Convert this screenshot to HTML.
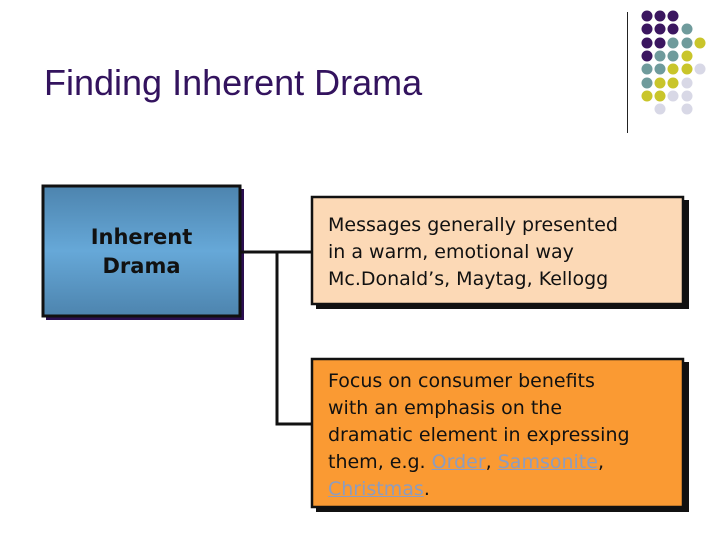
<!DOCTYPE html>
<html><head><meta charset="utf-8"><style>
body{margin:0;width:720px;height:540px;background:#fff;position:relative;overflow:hidden;font-family:"DejaVu Sans","Liberation Sans",sans-serif}
.a{position:absolute}
.t{font-size:19px;line-height:27px;color:#111;}
a{color:#8c9cc0;text-decoration:underline}
</style></head><body>
<div class="a" style="left:44px;top:62px;font:36px 'Liberation Sans',sans-serif;color:#33135e;white-space:nowrap">Finding Inherent Drama</div>
<div class="a" style="left:627px;top:12px;width:1px;height:121px;background:#222"></div>
<svg class="a" style="left:0;top:0" width="720" height="540">
<g>
<circle cx="647" cy="16" r="5.5" fill="#3b1660"/><circle cx="660" cy="16" r="5.5" fill="#3b1660"/><circle cx="673" cy="16" r="5.5" fill="#3b1660"/>
<circle cx="647" cy="29" r="5.5" fill="#3b1660"/><circle cx="660" cy="29" r="5.5" fill="#3b1660"/><circle cx="673" cy="29" r="5.5" fill="#3b1660"/><circle cx="687" cy="29" r="5.5" fill="#6f9b9c"/>
<circle cx="647" cy="43" r="5.5" fill="#3b1660"/><circle cx="660" cy="43" r="5.5" fill="#3b1660"/><circle cx="673" cy="43" r="5.5" fill="#6f9b9c"/><circle cx="687" cy="43" r="5.5" fill="#6f9b9c"/><circle cx="700" cy="43" r="5.5" fill="#c9c52a"/>
<circle cx="647" cy="56" r="5.5" fill="#3b1660"/><circle cx="660" cy="56" r="5.5" fill="#6f9b9c"/><circle cx="673" cy="56" r="5.5" fill="#6f9b9c"/><circle cx="687" cy="56" r="5.5" fill="#c9c52a"/>
<circle cx="647" cy="69" r="5.5" fill="#6f9b9c"/><circle cx="660" cy="69" r="5.5" fill="#6f9b9c"/><circle cx="673" cy="69" r="5.5" fill="#c9c52a"/><circle cx="687" cy="69" r="5.5" fill="#c9c52a"/><circle cx="700" cy="69" r="5.5" fill="#d8d8e6"/>
<circle cx="647" cy="83" r="5.5" fill="#6f9b9c"/><circle cx="660" cy="83" r="5.5" fill="#c9c52a"/><circle cx="673" cy="83" r="5.5" fill="#c9c52a"/><circle cx="687" cy="83" r="5.5" fill="#d8d8e6"/>
<circle cx="647" cy="96" r="5.5" fill="#c9c52a"/><circle cx="660" cy="96" r="5.5" fill="#c9c52a"/><circle cx="673" cy="96" r="5.5" fill="#d8d8e6"/><circle cx="687" cy="96" r="5.5" fill="#d8d8e6"/>
<circle cx="660" cy="109" r="5.5" fill="#d8d8e6"/><circle cx="687" cy="109" r="5.5" fill="#d8d8e6"/>
</g>
<defs><linearGradient id="g" x1="0" y1="0" x2="0" y2="1"><stop offset="0" stop-color="#4d84ae"/><stop offset="0.5" stop-color="#66a8d8"/><stop offset="1" stop-color="#4d84ae"/></linearGradient></defs>
<rect x="46" y="189" width="198" height="131" fill="#2a0f50"/>
<rect x="43" y="186" width="197" height="130" fill="url(#g)" stroke="#111" stroke-width="3"/>
<path d="M241 252H312M277 252V424H312" stroke="#111" stroke-width="3" fill="none"/>
<rect x="316" y="200" width="373" height="109" fill="#111"/>
<rect x="312" y="197" width="371" height="107" fill="#fcd9b6" stroke="#111" stroke-width="2.5"/>
<rect x="316" y="362" width="373" height="150" fill="#111"/>
<rect x="312" y="359" width="371" height="148" fill="#fa9a33" stroke="#111" stroke-width="2.5"/>
</svg>
<div class="a" style="left:43px;top:223px;width:197px;text-align:center;font-weight:bold;font-size:21px;line-height:29px;color:#111">Inherent<br>Drama</div>
<div class="a t" style="left:328px;top:212px;white-space:nowrap">Messages generally presented<br>in a warm, emotional way<br>Mc.Donald’s, Maytag, Kellogg</div>
<div class="a t" style="left:328px;top:368px;white-space:nowrap">Focus on consumer benefits<br>with an emphasis on the<br>dramatic element in expressing<br>them, e.g. <a>Order</a>, <a>Samsonite</a>,<br><a>Christmas</a>.</div>
</body></html>
